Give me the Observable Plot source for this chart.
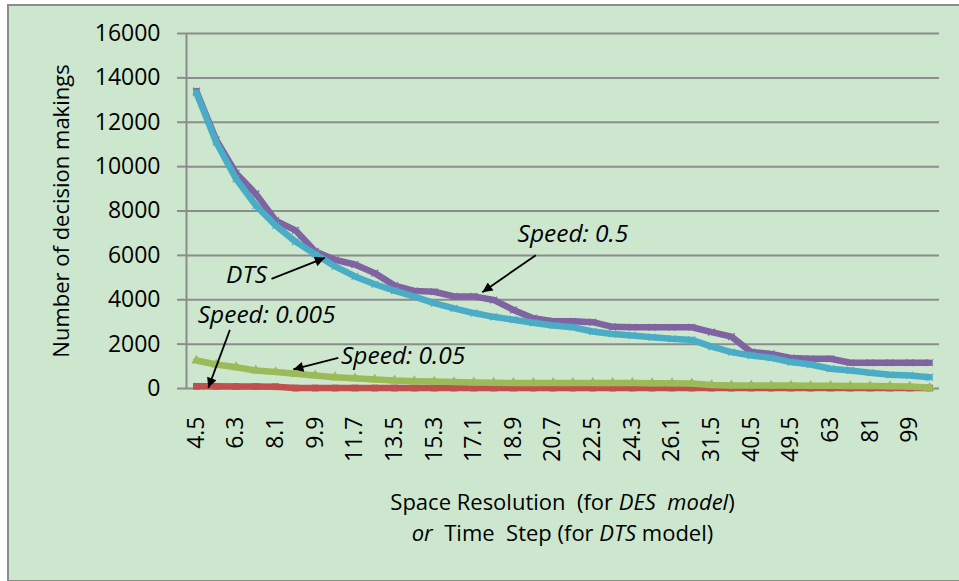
<!DOCTYPE html>
<html><head><meta charset="utf-8">
<script src="https://cdn.jsdelivr.net/npm/d3@7"></script>
<script src="https://cdn.jsdelivr.net/npm/@observablehq/plot@0.6"></script>
<style>
html,body{margin:0;padding:0;background:#fff;}
body{width:959px;height:581px;position:relative;overflow:hidden;font-family:"Open Sans",sans-serif;}
#frame{position:absolute;left:7px;top:4px;width:980px;height:574px;border:2px solid #8c8c8c;background:#cde7cf;}
#chart{position:absolute;left:0;top:0;}
#xtitle{position:absolute;left:186px;width:753px;top:486px;text-align:center;font-size:22px;line-height:31px;color:#000;}
</style></head><body>
<div id="frame"></div>
<div id="chart"></div>
<div id="xtitle">Space Resolution&nbsp; (for <i>DES&nbsp; model</i>)<br><i>or</i>&nbsp; Time&nbsp; Step (for <i>DTS</i> model)</div>
<script>
// Categories (x axis) — labels shown on every other category
const categories = ["4.5","5.4","6.3","7.2","8.1","9","9.9","10.8","11.7","12.6","13.5","14.4","15.3","16.2","17.1","18","18.9","19.8","20.7","21.6","22.5","23.4","24.3","25.2","26.1","27","31.5","36","40.5","45","49.5","54","63","72","81","90","99","108"];
const tickLabels = ["4.5","6.3","8.1","9.9","11.7","13.5","15.3","17.1","18.9","20.7","22.5","24.3","26.1","31.5","40.5","49.5","63","81","99"];
const yTicks = [0,2000,4000,6000,8000,10000,12000,14000,16000];

// Series values
const speed0005 = [100,100,90,90,80,20,20,20,20,20,20,20,20,20,20,20,20,20,20,20,20,20,20,20,20,20,20,20,20,20,20,20,20,20,20,20,20,20];
const speed005 = [1260,1080,960,810,740,660,590,510,460,410,360,330,310,290,270,260,250,250,250,250,250,250,250,240,240,230,160,140,140,130,130,120,120,110,110,100,90,30];
const speed05 = [13400,11200,9700,8770,7570,7130,6180,5800,5590,5200,4640,4400,4360,4150,4150,3990,3540,3170,3030,3030,2990,2780,2760,2760,2760,2760,2540,2340,1640,1560,1380,1340,1340,1160,1160,1160,1160,1160];
const dts = [13330,11100,9450,8250,7350,6620,6050,5500,5050,4700,4410,4140,3850,3610,3400,3230,3100,2960,2840,2760,2570,2460,2390,2310,2240,2190,1890,1640,1490,1380,1190,1080,890,810,710,620,590,510];

// Annotations (in data units: category index, value)
const annotLabels = ["Speed: 0.5","DTS","Speed: 0.05","Speed: 0.005"];
const annotX = [19.0, 2.53, 10.43, 3.54];
const annotY = [6940, 5090, 1440, 3290];
const arrowX1 = [17.13, 3.79, 7.16, 1.69];
const arrowY1 = [6010, 4940, 1380, 2640];
const arrowX2 = [14.43, 6.48, 4.89, 0.60];
const arrowY2 = [4340, 5890, 860, 30];

const rows = arr => arr.map((v, i) => ({i, v}));
const tickIdx = tickLabels.map(t => categories.indexOf(t));
const annots = annotLabels.map((label, k) => ({label, x: annotX[k], y: annotY[k]}));
const arrows = arrowX1.map((x1, k) => ({x1, y1: arrowY1[k], x2: arrowX2[k], y2: arrowY2[k]}));

const colors = {red:"#c0504d", green:"#9bbb59", purple:"#8064a2", cyan:"#4bacc6"};
const grid = "#8c8c8c";
const LW = 6.5;

const chart = Plot.plot({
  width: 959, height: 470,
  marginLeft: 186, marginRight: 20, marginTop: 33, marginBottom: 82,
  style: {background: "transparent", fontFamily: "'Open Sans', sans-serif", color: "#000", overflow: "visible"},
  x: {domain: [-0.5, categories.length - 0.5]},
  y: {domain: [0, 16000]},
  marks: [
    Plot.ruleY(yTicks, {stroke: grid, strokeWidth: 2}),
    Plot.ruleX([-0.5], {y1: 0, y2: 16000, stroke: grid, strokeWidth: 2}),
    Plot.axisY({ticks: yTicks, tickSize: 9, tickPadding: 17, tickFormat: d => String(d), fontSize: 23, stroke: grid, strokeWidth: 2, strokeOpacity: 1, label: null}),
    Plot.text(["Number of decision makings"], {frameAnchor: "left", dx: -125, rotate: -90, fontSize: 22, textAnchor: "middle"}),
    Plot.axisX({ticks: tickIdx, tickFormat: i => categories[i], tickRotate: -90, tickSize: 0, tickPadding: 28, fontSize: 23, label: null}),
    Plot.line(rows(speed0005), {x: "i", y: "v", stroke: colors.red, strokeWidth: LW}),
    Plot.dot(rows(speed0005), {x: "i", y: "v", symbol: "square", r: 3.8, fill: colors.red}),
    Plot.line(rows(speed005), {x: "i", y: "v", stroke: colors.green, strokeWidth: LW}),
    Plot.dot(rows(speed005), {x: "i", y: "v", symbol: "triangle", r: 3.8, fill: colors.green}),
    Plot.line(rows(speed05), {x: "i", y: "v", stroke: colors.purple, strokeWidth: LW}),
    Plot.dot(rows(speed05), {x: "i", y: "v", symbol: "times", r: 3.2, stroke: colors.purple, strokeWidth: 1.2}),
    Plot.line(rows(dts), {x: "i", y: "v", stroke: colors.cyan, strokeWidth: LW}),
    Plot.dot(rows(dts), {x: "i", y: "v", symbol: "times", r: 3.2, stroke: colors.cyan, strokeWidth: 1.2}),
    Plot.link(arrows, {x1: "x1", y1: "y1", x2: "x2", y2: "y2", stroke: "#000", strokeWidth: 1.8}),
    Plot.text(annots, {x: "x", y: "y", text: "label", fontStyle: "italic", fontSize: 24.5, textAnchor: "middle"})
  ]
});
document.getElementById("chart").appendChild(chart);

// filled arrowheads
const svgNode = chart.tagName.toLowerCase() === "svg" ? chart : chart.querySelector("svg");
const svg = d3.select(svgNode);
const defs = svg.insert("defs", ":first-child");
defs.append("marker").attr("id", "ahead").attr("viewBox", "0 0 10 10").attr("refX", 10).attr("refY", 5)
  .attr("markerUnits", "userSpaceOnUse").attr("markerWidth", 14).attr("markerHeight", 10).attr("orient", "auto")
  .append("path").attr("d", "M0,0L10,5L0,10Z").attr("fill", "#000");
svg.selectAll('g[aria-label="link"] path').attr("marker-end", "url(#ahead)");
</script>
</body></html>
